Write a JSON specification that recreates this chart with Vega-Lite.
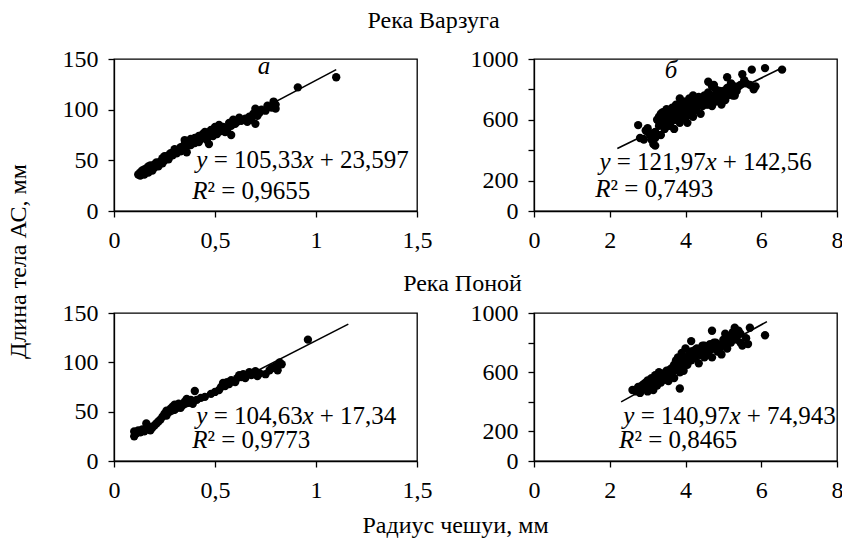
{
  "$schema": "https://vega.github.io/schema/vega-lite/v6.json",
  "padding": {"left": 5, "top": 8, "right": 0, "bottom": 0},
  "background": "white",
  "datasets": {
    "pts": [
      {"p":"a","x":0.12,"y":36},{"p":"a","x":0.13,"y":38},{"p":"a","x":0.13,"y":35},{"p":"a","x":0.14,"y":40},{"p":"a","x":0.14,"y":37},{"p":"a","x":0.15,"y":36},{"p":"a","x":0.15,"y":41},{"p":"a","x":0.16,"y":39},{"p":"a","x":0.16,"y":42},{"p":"a","x":0.17,"y":38},{"p":"a","x":0.17,"y":44},{"p":"a","x":0.18,"y":41},{"p":"a","x":0.18,"y":45},{"p":"a","x":0.19,"y":43},{"p":"a","x":0.19,"y":40},{"p":"a","x":0.2,"y":46},{"p":"a","x":0.2,"y":43},{"p":"a","x":0.21,"y":45},{"p":"a","x":0.21,"y":48},{"p":"a","x":0.22,"y":44},{"p":"a","x":0.22,"y":47},{"p":"a","x":0.23,"y":49},{"p":"a","x":0.24,"y":47},{"p":"a","x":0.24,"y":52},{"p":"a","x":0.25,"y":50},{"p":"a","x":0.25,"y":54},{"p":"a","x":0.26,"y":52},{"p":"a","x":0.27,"y":55},{"p":"a","x":0.27,"y":51},{"p":"a","x":0.28,"y":57},{"p":"a","x":0.29,"y":55},{"p":"a","x":0.3,"y":58},{"p":"a","x":0.3,"y":61},{"p":"a","x":0.31,"y":57},{"p":"a","x":0.32,"y":60},{"p":"a","x":0.33,"y":63},{"p":"a","x":0.33,"y":59},{"p":"a","x":0.34,"y":62},{"p":"a","x":0.35,"y":66},{"p":"a","x":0.35,"y":70},{"p":"a","x":0.36,"y":64},{"p":"a","x":0.36,"y":58},{"p":"a","x":0.37,"y":68},{"p":"a","x":0.38,"y":65},{"p":"a","x":0.38,"y":71},{"p":"a","x":0.39,"y":69},{"p":"a","x":0.4,"y":67},{"p":"a","x":0.4,"y":72},{"p":"a","x":0.41,"y":70},{"p":"a","x":0.42,"y":74},{"p":"a","x":0.42,"y":68},{"p":"a","x":0.43,"y":71},{"p":"a","x":0.44,"y":76},{"p":"a","x":0.45,"y":73},{"p":"a","x":0.45,"y":78},{"p":"a","x":0.46,"y":70},{"p":"a","x":0.47,"y":66},{"p":"a","x":0.47,"y":75},{"p":"a","x":0.48,"y":80},{"p":"a","x":0.48,"y":77},{"p":"a","x":0.49,"y":74},{"p":"a","x":0.5,"y":79},{"p":"a","x":0.5,"y":83},{"p":"a","x":0.51,"y":76},{"p":"a","x":0.52,"y":81},{"p":"a","x":0.52,"y":85},{"p":"a","x":0.53,"y":79},{"p":"a","x":0.54,"y":83},{"p":"a","x":0.55,"y":78},{"p":"a","x":0.56,"y":80},{"p":"a","x":0.57,"y":87},{"p":"a","x":0.58,"y":75},{"p":"a","x":0.58,"y":84},{"p":"a","x":0.59,"y":90},{"p":"a","x":0.6,"y":86},{"p":"a","x":0.61,"y":88},{"p":"a","x":0.62,"y":92},{"p":"a","x":0.63,"y":89},{"p":"a","x":0.65,"y":91},{"p":"a","x":0.66,"y":88},{"p":"a","x":0.67,"y":93},{"p":"a","x":0.68,"y":90},{"p":"a","x":0.69,"y":96},{"p":"a","x":0.7,"y":86},{"p":"a","x":0.7,"y":101},{"p":"a","x":0.71,"y":94},{"p":"a","x":0.72,"y":97},{"p":"a","x":0.73,"y":100},{"p":"a","x":0.75,"y":99},{"p":"a","x":0.76,"y":104},{"p":"a","x":0.78,"y":102},{"p":"a","x":0.79,"y":108},{"p":"a","x":0.8,"y":101},{"p":"a","x":0.8,"y":105},{"p":"a","x":0.91,"y":122},{"p":"a","x":1.1,"y":132},
      {"p":"b","x":2.75,"y":565},{"p":"b","x":2.8,"y":480},{"p":"b","x":2.9,"y":470},{"p":"b","x":2.95,"y":530},{"p":"b","x":3.0,"y":545},{"p":"b","x":3.05,"y":505},{"p":"b","x":3.1,"y":470},{"p":"b","x":3.15,"y":440},{"p":"b","x":3.2,"y":430},{"p":"b","x":3.2,"y":520},{"p":"b","x":3.25,"y":600},{"p":"b","x":3.3,"y":560},{"p":"b","x":3.3,"y":620},{"p":"b","x":3.35,"y":500},{"p":"b","x":3.4,"y":650},{"p":"b","x":3.4,"y":580},{"p":"b","x":3.45,"y":540},{"p":"b","x":3.5,"y":610},{"p":"b","x":3.5,"y":670},{"p":"b","x":3.55,"y":560},{"p":"b","x":3.6,"y":630},{"p":"b","x":3.6,"y":590},{"p":"b","x":3.65,"y":680},{"p":"b","x":3.7,"y":600},{"p":"b","x":3.7,"y":540},{"p":"b","x":3.75,"y":650},{"p":"b","x":3.8,"y":700},{"p":"b","x":3.8,"y":620},{"p":"b","x":3.85,"y":740},{"p":"b","x":3.85,"y":580},{"p":"b","x":3.9,"y":660},{"p":"b","x":3.9,"y":690},{"p":"b","x":3.95,"y":610},{"p":"b","x":4.0,"y":720},{"p":"b","x":4.0,"y":650},{"p":"b","x":4.05,"y":580},{"p":"b","x":4.1,"y":700},{"p":"b","x":4.1,"y":740},{"p":"b","x":4.15,"y":660},{"p":"b","x":4.2,"y":760},{"p":"b","x":4.2,"y":620},{"p":"b","x":4.25,"y":700},{"p":"b","x":4.3,"y":730},{"p":"b","x":4.3,"y":680},{"p":"b","x":4.35,"y":750},{"p":"b","x":4.4,"y":640},{"p":"b","x":4.4,"y":710},{"p":"b","x":4.45,"y":690},{"p":"b","x":4.5,"y":740},{"p":"b","x":4.5,"y":760},{"p":"b","x":4.55,"y":700},{"p":"b","x":4.6,"y":720},{"p":"b","x":4.6,"y":780},{"p":"b","x":4.65,"y":740},{"p":"b","x":4.7,"y":820},{"p":"b","x":4.7,"y":690},{"p":"b","x":4.75,"y":760},{"p":"b","x":4.8,"y":800},{"p":"b","x":4.8,"y":720},{"p":"b","x":4.85,"y":780},{"p":"b","x":4.9,"y":740},{"p":"b","x":4.95,"y":700},{"p":"b","x":5.0,"y":790},{"p":"b","x":5.0,"y":760},{"p":"b","x":5.05,"y":730},{"p":"b","x":5.1,"y":880},{"p":"b","x":5.1,"y":810},{"p":"b","x":5.15,"y":770},{"p":"b","x":5.2,"y":840},{"p":"b","x":5.25,"y":800},{"p":"b","x":5.3,"y":760},{"p":"b","x":5.35,"y":790},{"p":"b","x":5.4,"y":820},{"p":"b","x":5.5,"y":900},{"p":"b","x":5.55,"y":860},{"p":"b","x":5.6,"y":840},{"p":"b","x":5.7,"y":830},{"p":"b","x":5.75,"y":930},{"p":"b","x":5.8,"y":800},{"p":"b","x":5.85,"y":820},{"p":"b","x":6.1,"y":940},{"p":"b","x":6.55,"y":930},
      {"p":"b","x":3.3,"y":590},{"p":"b","x":3.35,"y":640},{"p":"b","x":3.4,"y":610},{"p":"b","x":3.45,"y":600},{"p":"b","x":3.5,"y":640},{"p":"b","x":3.55,"y":620},{"p":"b","x":3.6,"y":660},{"p":"b","x":3.65,"y":640},{"p":"b","x":3.7,"y":620},{"p":"b","x":3.75,"y":600},{"p":"b","x":3.75,"y":700},{"p":"b","x":3.8,"y":660},{"p":"b","x":3.85,"y":690},{"p":"b","x":3.9,"y":630},{"p":"b","x":3.95,"y":670},{"p":"b","x":3.95,"y":720},{"p":"b","x":4.0,"y":690},{"p":"b","x":4.05,"y":710},{"p":"b","x":4.05,"y":630},{"p":"b","x":4.1,"y":670},{"p":"b","x":4.15,"y":720},{"p":"b","x":4.2,"y":690},{"p":"b","x":4.25,"y":740},{"p":"b","x":4.25,"y":660},{"p":"b","x":4.3,"y":710},{"p":"b","x":4.35,"y":700},{"p":"b","x":4.4,"y":740},{"p":"b","x":4.45,"y":720},{"p":"b","x":4.5,"y":720},{"p":"b","x":4.55,"y":740},{"p":"b","x":4.6,"y":700},{"p":"b","x":4.65,"y":760},{"p":"b","x":4.7,"y":740},{"p":"b","x":4.75,"y":720},{"p":"b","x":4.8,"y":760},{"p":"b","x":4.85,"y":750},{"p":"b","x":4.9,"y":790},{"p":"b","x":4.95,"y":760},{"p":"b","x":5.0,"y":730},{"p":"b","x":5.05,"y":780},{"p":"b","x":5.1,"y":760},{"p":"b","x":5.2,"y":790},{"p":"b","x":5.25,"y":760},{"p":"b","x":5.3,"y":820},{"p":"b","x":5.45,"y":830},{"p":"b","x":3.6,"y":560},{"p":"b","x":3.2,"y":480},{"p":"b","x":3.1,"y":510},{"p":"b","x":4.6,"y":850},{"p":"b","x":4.75,"y":830},
      {"p":"c","x":0.1,"y":25},{"p":"c","x":0.1,"y":30},{"p":"c","x":0.11,"y":28},{"p":"c","x":0.12,"y":31},{"p":"c","x":0.13,"y":29},{"p":"c","x":0.14,"y":32},{"p":"c","x":0.15,"y":30},{"p":"c","x":0.16,"y":38},{"p":"c","x":0.16,"y":33},{"p":"c","x":0.17,"y":35},{"p":"c","x":0.18,"y":31},{"p":"c","x":0.19,"y":34},{"p":"c","x":0.2,"y":36},{"p":"c","x":0.21,"y":38},{"p":"c","x":0.22,"y":40},{"p":"c","x":0.23,"y":42},{"p":"c","x":0.24,"y":45},{"p":"c","x":0.25,"y":48},{"p":"c","x":0.26,"y":51},{"p":"c","x":0.26,"y":46},{"p":"c","x":0.27,"y":50},{"p":"c","x":0.28,"y":53},{"p":"c","x":0.29,"y":55},{"p":"c","x":0.3,"y":52},{"p":"c","x":0.3,"y":57},{"p":"c","x":0.31,"y":55},{"p":"c","x":0.32,"y":58},{"p":"c","x":0.33,"y":54},{"p":"c","x":0.34,"y":57},{"p":"c","x":0.35,"y":60},{"p":"c","x":0.36,"y":63},{"p":"c","x":0.37,"y":59},{"p":"c","x":0.38,"y":62},{"p":"c","x":0.39,"y":58},{"p":"c","x":0.4,"y":71},{"p":"c","x":0.41,"y":62},{"p":"c","x":0.43,"y":64},{"p":"c","x":0.45,"y":65},{"p":"c","x":0.48,"y":68},{"p":"c","x":0.5,"y":70},{"p":"c","x":0.52,"y":72},{"p":"c","x":0.53,"y":75},{"p":"c","x":0.54,"y":79},{"p":"c","x":0.55,"y":76},{"p":"c","x":0.56,"y":80},{"p":"c","x":0.57,"y":78},{"p":"c","x":0.58,"y":82},{"p":"c","x":0.6,"y":80},{"p":"c","x":0.61,"y":84},{"p":"c","x":0.62,"y":87},{"p":"c","x":0.63,"y":85},{"p":"c","x":0.64,"y":88},{"p":"c","x":0.65,"y":84},{"p":"c","x":0.67,"y":90},{"p":"c","x":0.68,"y":87},{"p":"c","x":0.7,"y":91},{"p":"c","x":0.71,"y":86},{"p":"c","x":0.72,"y":89},{"p":"c","x":0.75,"y":88},{"p":"c","x":0.77,"y":92},{"p":"c","x":0.78,"y":94},{"p":"c","x":0.8,"y":96},{"p":"c","x":0.81,"y":92},{"p":"c","x":0.82,"y":100},{"p":"c","x":0.83,"y":98},{"p":"c","x":0.96,"y":123},
      {"p":"d","x":2.6,"y":480},{"p":"d","x":2.7,"y":470},{"p":"d","x":2.75,"y":500},{"p":"d","x":2.8,"y":460},{"p":"d","x":2.85,"y":510},{"p":"d","x":2.9,"y":490},{"p":"d","x":2.95,"y":530},{"p":"d","x":3.0,"y":470},{"p":"d","x":3.0,"y":545},{"p":"d","x":3.05,"y":500},{"p":"d","x":3.1,"y":560},{"p":"d","x":3.1,"y":520},{"p":"d","x":3.15,"y":480},{"p":"d","x":3.2,"y":580},{"p":"d","x":3.2,"y":540},{"p":"d","x":3.25,"y":510},{"p":"d","x":3.3,"y":600},{"p":"d","x":3.3,"y":560},{"p":"d","x":3.35,"y":530},{"p":"d","x":3.4,"y":590},{"p":"d","x":3.45,"y":550},{"p":"d","x":3.5,"y":610},{"p":"d","x":3.5,"y":580},{"p":"d","x":3.55,"y":540},{"p":"d","x":3.6,"y":620},{"p":"d","x":3.65,"y":600},{"p":"d","x":3.7,"y":650},{"p":"d","x":3.7,"y":560},{"p":"d","x":3.75,"y":680},{"p":"d","x":3.8,"y":620},{"p":"d","x":3.8,"y":700},{"p":"d","x":3.85,"y":490},{"p":"d","x":3.85,"y":640},{"p":"d","x":3.9,"y":730},{"p":"d","x":3.9,"y":660},{"p":"d","x":3.95,"y":610},{"p":"d","x":4.0,"y":700},{"p":"d","x":4.0,"y":760},{"p":"d","x":4.05,"y":650},{"p":"d","x":4.1,"y":720},{"p":"d","x":4.15,"y":810},{"p":"d","x":4.15,"y":680},{"p":"d","x":4.2,"y":740},{"p":"d","x":4.25,"y":700},{"p":"d","x":4.3,"y":760},{"p":"d","x":4.35,"y":660},{"p":"d","x":4.4,"y":720},{"p":"d","x":4.45,"y":780},{"p":"d","x":4.5,"y":700},{"p":"d","x":4.55,"y":760},{"p":"d","x":4.6,"y":740},{"p":"d","x":4.65,"y":790},{"p":"d","x":4.7,"y":880},{"p":"d","x":4.7,"y":700},{"p":"d","x":4.75,"y":760},{"p":"d","x":4.8,"y":800},{"p":"d","x":4.85,"y":740},{"p":"d","x":4.9,"y":780},{"p":"d","x":4.95,"y":720},{"p":"d","x":5.0,"y":820},{"p":"d","x":5.05,"y":860},{"p":"d","x":5.1,"y":760},{"p":"d","x":5.15,"y":800},{"p":"d","x":5.2,"y":840},{"p":"d","x":5.25,"y":870},{"p":"d","x":5.3,"y":900},{"p":"d","x":5.4,"y":880},{"p":"d","x":5.45,"y":800},{"p":"d","x":5.5,"y":780},{"p":"d","x":5.6,"y":830},{"p":"d","x":5.65,"y":790},{"p":"d","x":5.7,"y":900},{"p":"d","x":6.1,"y":850},
      {"p":"d","x":2.9,"y":520},{"p":"d","x":3.0,"y":510},{"p":"d","x":3.05,"y":540},{"p":"d","x":3.1,"y":490},{"p":"d","x":3.2,"y":510},{"p":"d","x":3.25,"y":560},{"p":"d","x":3.3,"y":530},{"p":"d","x":3.35,"y":580},{"p":"d","x":3.4,"y":560},{"p":"d","x":3.45,"y":590},{"p":"d","x":3.5,"y":550},{"p":"d","x":3.55,"y":600},{"p":"d","x":3.6,"y":580},{"p":"d","x":3.65,"y":630},{"p":"d","x":3.7,"y":610},{"p":"d","x":3.75,"y":640},{"p":"d","x":3.8,"y":660},{"p":"d","x":3.85,"y":600},{"p":"d","x":3.9,"y":690},{"p":"d","x":3.95,"y":650},{"p":"d","x":4.0,"y":660},{"p":"d","x":4.05,"y":700},{"p":"d","x":4.1,"y":680},{"p":"d","x":4.15,"y":740},{"p":"d","x":4.2,"y":700},{"p":"d","x":4.25,"y":750},{"p":"d","x":4.3,"y":720},{"p":"d","x":4.35,"y":740},{"p":"d","x":4.4,"y":760},{"p":"d","x":4.45,"y":730},{"p":"d","x":4.5,"y":780},{"p":"d","x":4.55,"y":720},{"p":"d","x":4.6,"y":770},{"p":"d","x":4.65,"y":750},{"p":"d","x":4.75,"y":800},{"p":"d","x":4.8,"y":760},{"p":"d","x":4.85,"y":790},{"p":"d","x":4.9,"y":750},{"p":"d","x":5.0,"y":780},{"p":"d","x":5.05,"y":800},{"p":"d","x":5.1,"y":830},{"p":"d","x":5.2,"y":800},{"p":"d","x":5.3,"y":850},{"p":"d","x":5.35,"y":820},{"p":"d","x":5.45,"y":860},{"p":"d","x":3.0,"y":500},{"p":"d","x":3.15,"y":530},{"p":"d","x":2.8,"y":490}
    ],
    "fit": [
      {"p":"a","x":0.12,"y":36.2},{"p":"a","x":1.1,"y":139.5},
      {"p":"b","x":2.2,"y":410.9},{"p":"b","x":6.5,"y":935.4},
      {"p":"c","x":0.1,"y":27.8},{"p":"c","x":1.16,"y":138.7},
      {"p":"d","x":2.3,"y":399.2},{"p":"d","x":6.15,"y":941.9}
    ],
    "eq": [
      {"p":"a","x":0.408,"y":50.3,"i1":"y","n1":"\u200b = 105,33","i2":"x","n2":"\u200b + 23,597"},
      {"p":"a","x":0.408,"y":20.2,"i1":"R","n1":"² = 0,9655","i2":"","n2":""},
      {"p":"b","x":1.73,"y":323,"i1":"y","n1":"\u200b = 121,97","i2":"x","n2":"\u200b + 142,56"},
      {"p":"b","x":1.73,"y":147,"i1":"R","n1":"² = 0,7493","i2":"","n2":""},
      {"p":"c","x":0.408,"y":46.1,"i1":"y","n1":"\u200b = 104,63","i2":"x","n2":"\u200b + 17,34"},
      {"p":"c","x":0.408,"y":20.8,"i1":"R","n1":"² = 0,9773","i2":"","n2":""},
      {"p":"d","x":2.36,"y":307,"i1":"y","n1":"\u200b = 140,97","i2":"x","n2":"\u200b + 74,943"},
      {"p":"d","x":2.36,"y":139,"i1":"R","n1":"² = 0,8465","i2":"","n2":""}
    ],
    "lbl": [
      {"p":"a","x":0.743,"y":143,"t":"а"},
      {"p":"b","x":3.62,"y":925,"t":"б"}
    ]
  },
  "columns": 2,
  "bounds": "flush",
  "spacing": {"row": 102, "column": 117},
  "concat": [
    {
      "title": {"text": "Река Варзуга", "anchor": "middle", "frame": "group", "dx": 168, "offset": 14},
      "width": 303, "height": 152,
      "encoding": {
        "x": {"field":"x","type":"quantitative","scale":{"domain":[0,1.5],"nice":false,"zero":false},"axis":{"values":[0,0.5,1,1.5],"labelExpr":"replace(format(datum.value, '~g'), '.', ',')","title":null}},
        "y": {"field":"y","type":"quantitative","scale":{"domain":[0,150],"nice":false},"axis":{"values":[0,50,100,150],"title":"Длина тела АС, мм","titleX":-84,"titleY":202}}
      },
      "layer": [
        {"data":{"name":"pts"},"transform":[{"filter":"datum.p == 'a'"}],"mark":{"type":"circle","color":"black","size":70,"opacity":1}},
        {"data":{"name":"fit"},"transform":[{"filter":"datum.p == 'a'"}],"mark":{"type":"line","color":"black","strokeWidth":1.6},"encoding":{}},
        {"data":{"name":"eq"},"transform":[{"filter":"datum.p == 'a'"}],"mark":{"type":"text","align":"right","baseline":"middle","dx":11,"fontStyle":"italic"},"encoding":{"text":{"field":"i1"}}},
        {"data":{"name":"eq"},"transform":[{"filter":"datum.p == 'a'"}],"mark":{"type":"text","align":"left","baseline":"middle","dx":11},"encoding":{"text":{"field":"n1"}}},
        {"data":{"name":"eq"},"transform":[{"filter":"datum.p == 'a'"}],"mark":{"type":"text","align":"left","baseline":"middle","dx":106,"fontStyle":"italic"},"encoding":{"text":{"field":"i2"}}},
        {"data":{"name":"eq"},"transform":[{"filter":"datum.p == 'a'"}],"mark":{"type":"text","align":"left","baseline":"middle","dx":117},"encoding":{"text":{"field":"n2"}}},
        {"data":{"name":"lbl"},"transform":[{"filter":"datum.p == 'a'"}],"mark":{"type":"text","align":"center","baseline":"middle","fontStyle":"italic"},"encoding":{"text":{"field":"t"}}}
      ]
    },
    {
      "width": 303, "height": 152,
      "encoding": {
        "x": {"field":"x","type":"quantitative","scale":{"domain":[0,8],"nice":false,"zero":false},"axis":{"values":[0,2,4,6,8],"title":null}},
        "y": {"field":"y","type":"quantitative","scale":{"domain":[0,1000],"nice":false},"axis":{"values":[0,200,400,600,800,1000],"format":"d","labelExpr":"datum.value == 400 || datum.value == 800 ? '' : datum.label","title":null}}
      },
      "layer": [
        {"data":{"name":"pts"},"transform":[{"filter":"datum.p == 'b'"}],"mark":{"type":"circle","color":"black","size":70,"opacity":1}},
        {"data":{"name":"fit"},"transform":[{"filter":"datum.p == 'b'"}],"mark":{"type":"line","color":"black","strokeWidth":1.6},"encoding":{}},
        {"data":{"name":"eq"},"transform":[{"filter":"datum.p == 'b'"}],"mark":{"type":"text","align":"right","baseline":"middle","dx":11,"fontStyle":"italic"},"encoding":{"text":{"field":"i1"}}},
        {"data":{"name":"eq"},"transform":[{"filter":"datum.p == 'b'"}],"mark":{"type":"text","align":"left","baseline":"middle","dx":11},"encoding":{"text":{"field":"n1"}}},
        {"data":{"name":"eq"},"transform":[{"filter":"datum.p == 'b'"}],"mark":{"type":"text","align":"left","baseline":"middle","dx":106,"fontStyle":"italic"},"encoding":{"text":{"field":"i2"}}},
        {"data":{"name":"eq"},"transform":[{"filter":"datum.p == 'b'"}],"mark":{"type":"text","align":"left","baseline":"middle","dx":117},"encoding":{"text":{"field":"n2"}}},
        {"data":{"name":"lbl"},"transform":[{"filter":"datum.p == 'b'"}],"mark":{"type":"text","align":"center","baseline":"middle","fontStyle":"italic"},"encoding":{"text":{"field":"t"}}}
      ]
    },
    {
      "width": 303, "height": 148,
      "encoding": {
        "x": {"field":"x","type":"quantitative","scale":{"domain":[0,1.5],"nice":false,"zero":false},"axis":{"values":[0,0.5,1,1.5],"labelExpr":"replace(format(datum.value, '~g'), '.', ',')","title":"Радиус чешуи, мм","titleX":341,"titlePadding":11}},
        "y": {"field":"y","type":"quantitative","scale":{"domain":[0,150],"nice":false},"axis":{"values":[0,50,100,150],"title":null}}
      },
      "layer": [
        {"data":{"name":"pts"},"transform":[{"filter":"datum.p == 'c'"}],"mark":{"type":"circle","color":"black","size":70,"opacity":1}},
        {"data":{"name":"fit"},"transform":[{"filter":"datum.p == 'c'"}],"mark":{"type":"line","color":"black","strokeWidth":1.6},"encoding":{}},
        {"data":{"name":"eq"},"transform":[{"filter":"datum.p == 'c'"}],"mark":{"type":"text","align":"right","baseline":"middle","dx":11,"fontStyle":"italic"},"encoding":{"text":{"field":"i1"}}},
        {"data":{"name":"eq"},"transform":[{"filter":"datum.p == 'c'"}],"mark":{"type":"text","align":"left","baseline":"middle","dx":11},"encoding":{"text":{"field":"n1"}}},
        {"data":{"name":"eq"},"transform":[{"filter":"datum.p == 'c'"}],"mark":{"type":"text","align":"left","baseline":"middle","dx":106,"fontStyle":"italic"},"encoding":{"text":{"field":"i2"}}},
        {"data":{"name":"eq"},"transform":[{"filter":"datum.p == 'c'"}],"mark":{"type":"text","align":"left","baseline":"middle","dx":117},"encoding":{"text":{"field":"n2"}}}
      ]
    },
    {
      "title": {"text": "Река Поной", "anchor": "middle", "frame": "group", "dx": -223, "offset": 5},
      "width": 303, "height": 148,
      "encoding": {
        "x": {"field":"x","type":"quantitative","scale":{"domain":[0,8],"nice":false,"zero":false},"axis":{"values":[0,2,4,6,8],"title":null}},
        "y": {"field":"y","type":"quantitative","scale":{"domain":[0,1000],"nice":false},"axis":{"values":[0,200,400,600,800,1000],"format":"d","labelExpr":"datum.value == 400 || datum.value == 800 ? '' : datum.label","title":null}}
      },
      "layer": [
        {"data":{"name":"pts"},"transform":[{"filter":"datum.p == 'd'"}],"mark":{"type":"circle","color":"black","size":70,"opacity":1}},
        {"data":{"name":"fit"},"transform":[{"filter":"datum.p == 'd'"}],"mark":{"type":"line","color":"black","strokeWidth":1.6},"encoding":{}},
        {"data":{"name":"eq"},"transform":[{"filter":"datum.p == 'd'"}],"mark":{"type":"text","align":"right","baseline":"middle","dx":11,"fontStyle":"italic"},"encoding":{"text":{"field":"i1"}}},
        {"data":{"name":"eq"},"transform":[{"filter":"datum.p == 'd'"}],"mark":{"type":"text","align":"left","baseline":"middle","dx":11},"encoding":{"text":{"field":"n1"}}},
        {"data":{"name":"eq"},"transform":[{"filter":"datum.p == 'd'"}],"mark":{"type":"text","align":"left","baseline":"middle","dx":106,"fontStyle":"italic"},"encoding":{"text":{"field":"i2"}}},
        {"data":{"name":"eq"},"transform":[{"filter":"datum.p == 'd'"}],"mark":{"type":"text","align":"left","baseline":"middle","dx":117},"encoding":{"text":{"field":"n2"}}}
      ]
    }
  ],
  "config": {
    "font": "Liberation Serif",
    "view": {"stroke": "black", "strokeWidth": 1.3},
    "axis": {"domainColor": "black", "domainWidth": 1.3, "tickColor": "black", "tickWidth": 1.3, "tickSize": 6, "labelColor": "black", "labelFont": "Liberation Serif", "labelFontSize": 24, "grid": false, "titleFont": "Liberation Serif", "titleFontSize": 24, "titleFontWeight": "normal", "titleColor": "black", "labelFlush": false, "labelOverlap": false},
    "axisX": {"labelPadding": 11, "labelFontSize": 24, "labelFont": "Liberation Serif"},
    "axisY": {"labelPadding": 10, "labelFontSize": 24, "labelFont": "Liberation Serif"},
    "title": {"font": "Liberation Serif", "fontSize": 24, "fontWeight": "normal", "color": "black"},
    "text": {"font": "Liberation Serif", "fontSize": 25, "color": "black"}
  }
}
